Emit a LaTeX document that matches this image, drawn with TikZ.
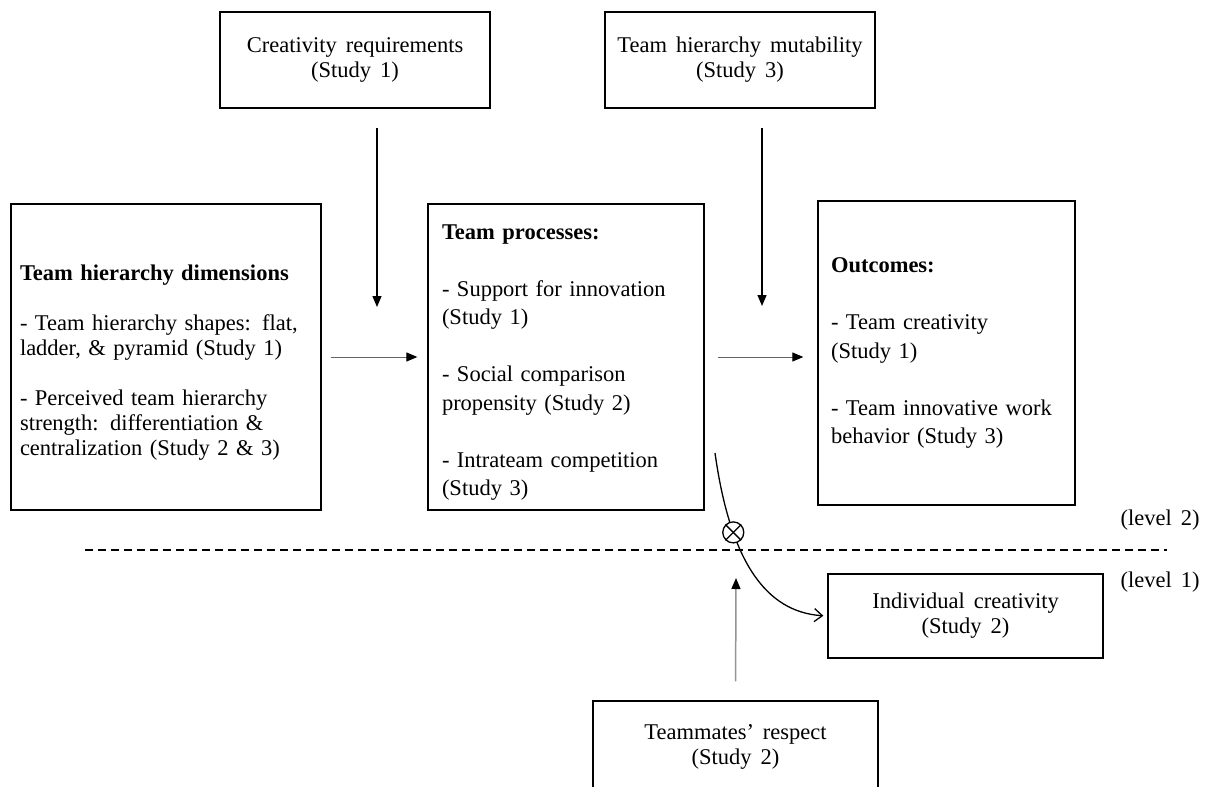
\documentclass[tikz,border=0pt]{standalone}
\usepackage{fontspec}
\setmainfont{Liberation Serif}[WordSpace=1.6]
\usetikzlibrary{arrows.meta}
\newcommand\fsA{\fontsize{22.5}{25}\selectfont}
\newcommand\fsB{\fontsize{22.5}{28.5}\selectfont}
\begin{document}
\begin{tikzpicture}[x=1pt,y=-1pt,
  box/.style={draw, line width=1.3pt, inner ysep=0pt, font=\fsA, align=center},
  lbox/.style={draw, line width=1.3pt, inner ysep=0pt, align=left},
  varrow/.style={line width=1.3pt, -{Triangle[length=11pt,width=9pt]}},
  harrow/.style={line width=1pt, draw=black!60, -{Triangle[length=11pt,width=9pt,color=black]}},
  garrow/.style={line width=1.5pt, draw=black!42, -{Triangle[length=11pt,width=9pt,color=black]}},
  carrow/.style={line width=1.3pt, -{Straight Barb[length=8pt,width=13pt,line width=1.3pt]}},
  lvl/.style={font=\fsA, inner sep=0pt}
]
\useasboundingbox (0,0) rectangle (1210,787);
\clip (0,0) rectangle (1210,787);

% top boxes
\node[box, minimum width=270, minimum height=96] (cr) at (355,60)
  {Creativity requirements\\(Study 1)};
\node[box, minimum width=270, minimum height=96] (mu) at (740,60)
  {Team hierarchy mutability\\(Study 3)};

% main boxes
\node[lbox, font=\fsA, text width=292, inner xsep=9, minimum height=306] (lb) at (166,357)
  {\rule{0pt}{27pt}\textbf{Team hierarchy dimensions}\\[25pt]
   - Team hierarchy shapes: flat,\\ladder, \& pyramid (Study 1)\\[25pt]
   - Perceived team hierarchy\\strength: differentiation \&\\centralization (Study 2 \& 3)};
\node[lbox, font=\fsB, text width=248, inner xsep=14, minimum height=306] (tp) at (566,357)
  {\rule{0pt}{26pt}\textbf{Team processes:}\\[28.5pt]
   - Support for innovation\\(Study 1)\\[28.5pt]
   - Social comparison\\propensity (Study 2)\\[28.5pt]
   - Intrateam competition\\(Study 3)};
\node[lbox, font=\fsB, text width=231, inner xsep=13, minimum height=304] (oc) at (946.5,353)
  {\textbf{Outcomes:}\\[28.5pt]
   - Team creativity\\(Study 1)\\[28.5pt]
   - Team innovative work\\behavior (Study 3)};

% lower boxes
\node[box, minimum width=275, minimum height=84] (ic) at (965.5,616)
  {Individual creativity\\(Study 2)};
\node[box, minimum width=285, minimum height=91] (tr) at (735.5,746.5)
  {Teammates’ respect\\(Study 2)};

% level labels
\node[lvl] (l2) at (1160,520) {(level 2)};
\node[lvl] (l1) at (1160,582) {(level 1)};

% dashed separator
\coordinate (d1) at (85,550);
\coordinate (d2) at (1167,550);
\draw[line width=1.3pt, dash pattern=on 8pt off 5pt] (d1) -- (d2);

% vertical moderator arrows
\coordinate (a1s) at (377,128);
\coordinate (a1e) at (377,307);
\coordinate (a2s) at (762,128);
\coordinate (a2e) at (762,306);
\draw[varrow] (a1s) -- (a1e);
\draw[varrow] (a2s) -- (a2e);

% horizontal arrows
\draw[harrow, shorten <=9pt, shorten >=10pt] (lb.east) -- (lb.east -| tp.west);
\draw[harrow, shorten <=13pt, shorten >=14pt] (tp.east) -- (tp.east -| oc.west);

% bottom arrow
\coordinate (g1) at (736,578);
\draw[garrow, shorten <=19pt] (tr.north) -- (g1);

% cross-level curved arrow with interaction sign
\coordinate (cs) at (715,453);
\draw[carrow, shorten >=4pt] (cs) .. controls (730,560) and (765,612) .. (ic.west)
  node[pos=0.29, circle, draw, fill=white, line width=1.3pt, minimum size=21pt, inner sep=0pt] (ot) {};
\draw[line width=1.3pt] (ot.north west) -- (ot.south east);
\draw[line width=1.3pt] (ot.north east) -- (ot.south west);
\end{tikzpicture}
\end{document}
